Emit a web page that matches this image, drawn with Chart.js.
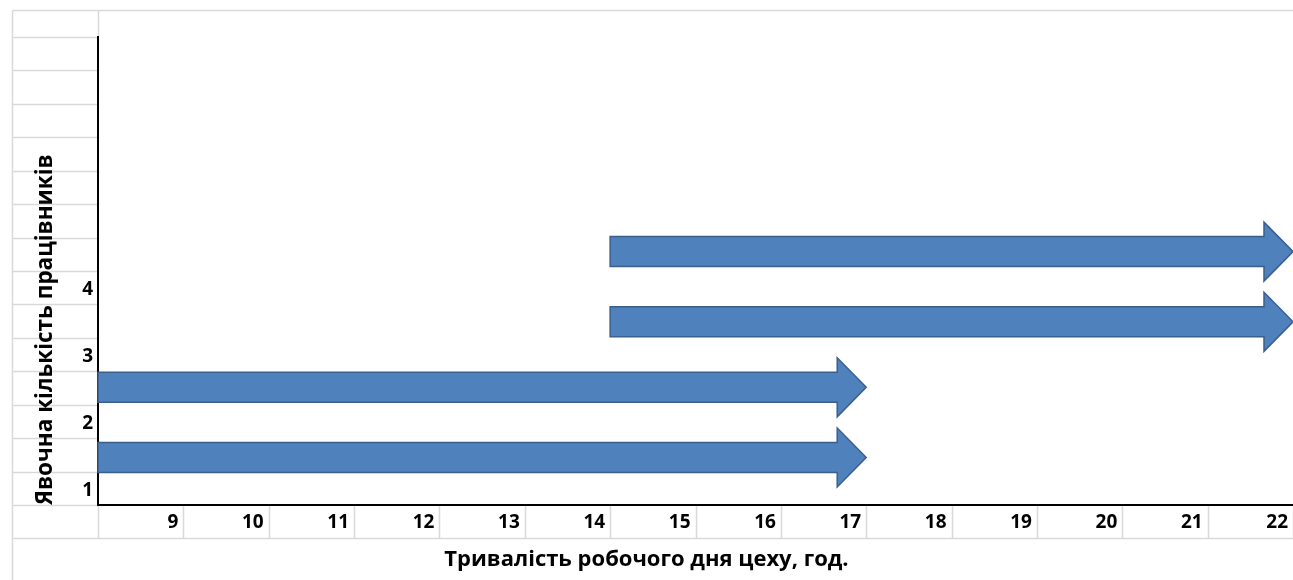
<!DOCTYPE html>
<html><head><meta charset="utf-8">
<script src="https://cdn.jsdelivr.net/npm/chart.js@4.4.1/dist/chart.umd.min.js"></script>
<style>html,body{margin:0;padding:0;background:#fff;}canvas{display:block}</style>
</head><body>
<canvas id="c" width="1293" height="580"></canvas>
<script>
const hourTicks = [9, 10, 11, 12, 13, 14, 15, 16, 17, 18, 19, 20, 21, 22];
const workerLabels = ['1', '2', '3', '4'];
const shiftStart = [8, 8, 14, 14];
const shiftEnd = [17, 17, 22, 22];
const shiftLevel = [0.71, 1.76, 2.74, 3.79];
const xTitle = 'Тривалість робочого дня цеху, год.';
const yTitle = 'Явочна кількість працівників';

const FONT = 'Open Sans';

const sheetGrid = {
  id: 'sheetGrid',
  beforeDraw(chart) {
    const {ctx, scales: {x, y}} = chart;
    ctx.save();
    ctx.fillStyle = '#fff';
    ctx.fillRect(0, 0, chart.width, chart.height);
    ctx.strokeStyle = '#d9d9d9';
    ctx.lineWidth = 1.5;
    const s = v => Math.round(v) + 0.5;
    const line = (x1, y1, x2, y2) => { ctx.beginPath(); ctx.moveTo(s(x1), s(y1)); ctx.lineTo(s(x2), s(y2)); ctx.stroke(); };
    const L = 12, T = 10;
    const x0 = x.getPixelForValue(x.min);
    const y0 = y.getPixelForValue(0);
    const yTop = y.getPixelForValue(y.max);
    const rowH = y0 - y.getPixelForValue(0.5);
    line(L, T, chart.width, T);
    line(L, T, L, chart.height);
    line(x0, T, x0, yTop);
    for (let v = 0; v <= y.max; v += 0.5) { const py = y.getPixelForValue(v); line(L, py, x0, py); }
    const bottomRow = y0 + rowH;
    for (let h = x.min; h <= x.max; h++) { const px = x.getPixelForValue(h); line(px, y0, px, bottomRow); }
    line(L, bottomRow, chart.width, bottomRow);
    ctx.restore();
  }
};

const arrowDraw = {
  id: 'arrowDraw',
  beforeDatasetDraw(chart, args) {
    const ctx = chart.ctx;
    ctx.save();
    args.meta.data.forEach(bar => {
      const p = bar.getProps(['x', 'base', 'y', 'height'], true);
      const tip = p.x, tail = p.base, cy = p.y, half = p.height / 2;
      const headLen = 29, headHalf = 29.5;
      ctx.beginPath();
      ctx.moveTo(tail, cy - half);
      ctx.lineTo(tip - headLen, cy - half);
      ctx.lineTo(tip - headLen, cy - headHalf);
      ctx.lineTo(tip, cy);
      ctx.lineTo(tip - headLen, cy + headHalf);
      ctx.lineTo(tip - headLen, cy + half);
      ctx.lineTo(tail, cy + half);
      ctx.closePath();
      ctx.fillStyle = '#4f81bd';
      ctx.fill();
      ctx.strokeStyle = '#3a5f8c';
      ctx.lineWidth = 1.5;
      ctx.stroke();
    });
    ctx.restore();
    return false;
  }
};

new Chart(document.getElementById('c'), {
  type: 'bar',
  data: {
    datasets: [{
      data: shiftStart.map((s, i) => ({x: [s, shiftEnd[i]], y: shiftLevel[i]})),
      backgroundColor: '#4f81bd',
      barThickness: 30
    }]
  },
  plugins: [sheetGrid, arrowDraw],
  options: {
    responsive: false,
    animation: false,
    devicePixelRatio: 1,
    indexAxis: 'y',
    layout: {padding: {top: 37, left: 0, right: 0, bottom: 0}},
    plugins: {
      legend: {display: false},
      tooltip: {enabled: false},
      title: {
        display: true, position: 'bottom', text: xTitle, color: '#000',
        font: {family: FONT, size: 22, weight: 'bold'},
        padding: {top: 0, bottom: 7}
      }
    },
    scales: {
      x: {
        type: 'linear', min: 8, max: 22, offset: false,
        grid: {display: false, drawTicks: false},
        border: {display: true, color: '#000', width: 2},
        afterBuildTicks: sc => { sc.ticks = hourTicks.map(v => ({value: v})); },
        ticks: {
          callback: v => String(v), align: 'end', labelOffset: -5, padding: 6,
          autoSkip: false, maxRotation: 0, color: '#000',
          font: {family: FONT, size: 19, weight: 'bold'}
        },
        afterFit: sc => { sc.height = 41.6; sc.paddingLeft = 0; sc.paddingRight = 0; }
      },
      y: {
        type: 'linear', min: 0, max: 7, z: 1, offset: false,
        grid: {display: false, drawTicks: false},
        border: {display: true, color: '#000', width: 2},
        afterBuildTicks: sc => { sc.ticks = workerLabels.map((l, i) => ({value: i + 1})); },
        ticks: {
          callback: (v, i) => workerLabels[i], labelOffset: 52, padding: 5,
          autoSkip: false, color: '#000',
          font: {family: FONT, size: 19, weight: 'bold'}
        },
        title: {
          display: true, text: yTitle, align: 'start', color: '#000',
          font: {family: FONT, size: 22.5, weight: 'bold'},
          padding: {top: 32, bottom: 0}
        },
        afterFit: sc => { sc.width = 98; sc.paddingTop = 0; sc.paddingBottom = 0; }
      }
    }
  }
});
</script>
</body></html>
